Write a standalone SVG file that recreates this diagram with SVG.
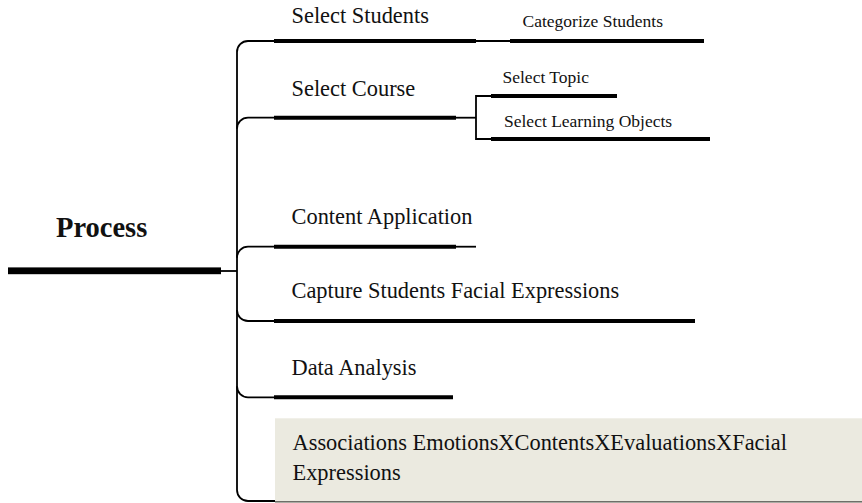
<svg xmlns="http://www.w3.org/2000/svg" width="862" height="503" viewBox="0 0 862 503">
<style>
text{font-family:"Liberation Serif","Times New Roman",serif;fill:#111}
.lbl{font-size:22.4px}
.sm{font-size:17.5px}
.thick{stroke:#000;stroke-width:4;fill:none}
.thin{stroke:#000;stroke-width:1.8;fill:none}
</style>
<rect width="862" height="503" fill="#fff"/>
<g id="connectors">
<path class="thin" d="M221 271 H237"/>
<path class="thin" d="M274 41 H248 A11 11 0 0 0 237 52 V490 A11 11 0 0 0 248 501 H276"/>
<path class="thin" d="M274 117.7 H248 A11 11 0 0 0 237 128.7"/>
<path class="thin" d="M274 246.7 H248 A11 11 0 0 0 237 257.7"/>
<path class="thin" d="M237 310 A11 11 0 0 0 248 321 H274"/>
<path class="thin" d="M237 386.3 A11 11 0 0 0 248 397.3 H274"/>
<path class="thin" d="M476 41 H510"/>
<path class="thin" d="M456 117.7 H476"/>
<path class="thin" d="M491 96 H476 V139 H491"/>
<path class="thin" d="M456 246.7 H476"/>
</g>
<g id="process">
<rect x="8" y="267.4" width="213" height="6.8" fill="#000"/>
<text x="56" y="236.7" style="font-size:28.5px;font-weight:bold">Process</text>
</g>
<g id="select-students">
<path class="thick" d="M274 41 H476"/>
<text class="lbl" x="291.5" y="22.7">Select Students</text>
</g>
<g id="categorize-students">
<path class="thick" d="M510 41 H704"/>
<text class="sm" x="522.5" y="26.7">Categorize Students</text>
</g>
<g id="select-course">
<path class="thick" d="M274 117.7 H456"/>
<text class="lbl" x="291.5" y="96">Select Course</text>
</g>
<g id="select-topic">
<path class="thick" d="M491 96 H617"/>
<text class="sm" x="502.5" y="83.3">Select Topic</text>
</g>
<g id="select-learning-objects">
<path class="thick" d="M491 139 H710"/>
<text class="sm" x="504" y="127.3">Select Learning Objects</text>
</g>
<g id="content-application">
<path class="thick" d="M274 246.7 H456"/>
<text class="lbl" x="291.5" y="224.3">Content Application</text>
</g>
<g id="capture-expressions">
<path class="thick" d="M274 321 H695"/>
<text class="lbl" x="291.5" y="298.3">Capture Students Facial Expressions</text>
</g>
<g id="data-analysis">
<path class="thick" d="M274 397.3 H453"/>
<text class="lbl" x="291.5" y="375">Data Analysis</text>
</g>
<g id="associations">
<rect x="275" y="418.3" width="587" height="84.7" fill="#EBEAE0"/>
<path d="M275 501.8 H862" stroke="#6e6e68" stroke-width="1.6"/>
<text class="lbl" x="292.5" y="450">Associations EmotionsXContentsXEvaluationsXFacial</text>
<text class="lbl" x="292.5" y="480">Expressions</text>
</g>
</svg>
